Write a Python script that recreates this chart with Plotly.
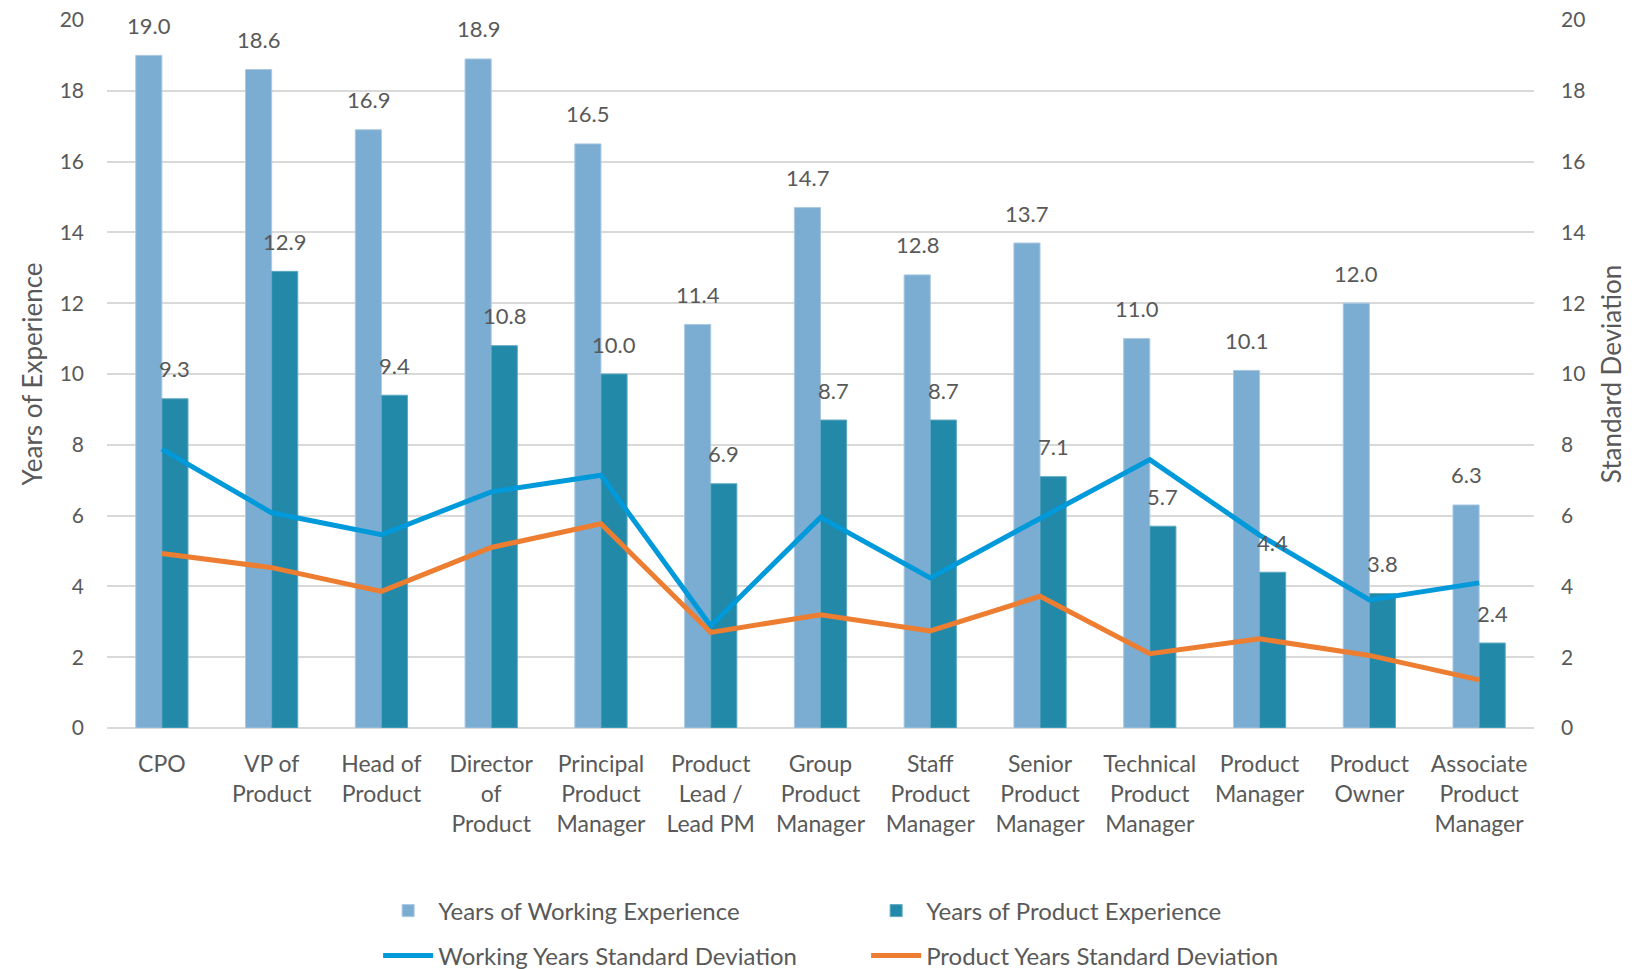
import plotly.graph_objects as go

categories = ["CPO", "VP of<br>Product", "Head of<br>Product", "Director<br>of<br>Product",
              "Principal<br>Product<br>Manager", "Product<br>Lead /<br>Lead PM",
              "Group<br>Product<br>Manager", "Staff<br>Product<br>Manager",
              "Senior<br>Product<br>Manager", "Technical<br>Product<br>Manager",
              "Product<br>Manager", "Product<br>Owner", "Associate<br>Product<br>Manager"]
working_years = [19.0, 18.6, 16.9, 18.9, 16.5, 11.4, 14.7, 12.8, 13.7, 11.0, 10.1, 12.0, 6.3]
product_years = [9.3, 12.9, 9.4, 10.8, 10.0, 6.9, 8.7, 8.7, 7.1, 5.7, 4.4, 3.8, 2.4]
working_sd = [7.88, 6.08, 5.46, 6.67, 7.14, 2.88, 5.95, 4.24, 5.92, 7.58, 5.45, 3.62, 4.1]
product_sd = [4.93, 4.53, 3.86, 5.1, 5.77, 2.7, 3.2, 2.74, 3.72, 2.1, 2.52, 2.05, 1.36]

idx = list(range(len(categories)))
GRAY = "#595959"
FONT = "Lato"

fig = go.Figure()
fig.add_trace(go.Bar(x=idx, y=working_years, name="Years of Working Experience",
                     marker=dict(color="#7BACD1", line=dict(color="#A9C8E2", width=1)),
                     legend="legend"))
fig.add_trace(go.Bar(x=idx, y=product_years, name="Years of Product Experience",
                     marker=dict(color="#2389A9", line=dict(color="#5FA9C2", width=1)),
                     legend="legend"))
fig.add_trace(go.Scatter(x=idx, y=working_sd, name="Working Years Standard Deviation",
                         mode="lines", line=dict(color="#0099DA", width=5),
                         yaxis="y2", legend="legend2"))
fig.add_trace(go.Scatter(x=idx, y=product_sd, name="Product Years Standard Deviation",
                         mode="lines", line=dict(color="#ED7D31", width=5),
                         yaxis="y2", legend="legend2"))

bargap = 0.524
half = (1 - bargap) / 4
for i in idx:
    fig.add_annotation(x=i - half, y=working_years[i], text=f"{working_years[i]:.1f}",
                       showarrow=False, yanchor="middle", yshift=30,
                       font=dict(family=FONT, size=22, color=GRAY))
    fig.add_annotation(x=i + half, y=product_years[i], text=f"{product_years[i]:.1f}",
                       showarrow=False, yanchor="middle", yshift=30,
                       font=dict(family=FONT, size=22, color=GRAY))

fig.update_layout(
    width=1636, height=969,
    margin=dict(l=107, r=102, t=20, b=241, autoexpand=False),
    plot_bgcolor="white", paper_bgcolor="white",
    barmode="group", bargap=bargap, bargroupgap=0,
    font=dict(family=FONT, color=GRAY),
    xaxis=dict(tickmode="array", tickvals=idx, ticktext=categories,
               range=[-0.5, len(categories) - 0.5], automargin=False,
               tickfont=dict(size=23, color=GRAY), showgrid=False,
               showline=False, ticks="", ticklabelstandoff=20),
    yaxis=dict(range=[0, 20], dtick=2, tickfont=dict(size=21, color=GRAY),
               gridcolor="#D9D9D9", gridwidth=1.5, zeroline=True,
               zerolinecolor="#D9D9D9", zerolinewidth=1.5, automargin=False,
               ticklabelstandoff=22,
               title=dict(text="Years of Experience", font=dict(size=26, color=GRAY),
                          standoff=9)),
    yaxis2=dict(range=[0, 20], dtick=2, overlaying="y", side="right",
                showgrid=False, zeroline=False, tickfont=dict(size=21, color=GRAY),
                ticklabelstandoff=26, automargin=False,
                title=dict(text="Standard Deviation", font=dict(size=26, color=GRAY),
                           standoff=18)),
    legend=dict(orientation="h", x=0.19, xanchor="left", y=-0.2585, yanchor="middle",
                entrywidth=423, entrywidthmode="pixels", itemwidth=50,
                font=dict(size=24, color=GRAY, family=FONT), traceorder="normal"),
    legend2=dict(orientation="h", x=0.19, xanchor="left", y=-0.322, yanchor="middle",
                 entrywidth=423, entrywidthmode="pixels", itemwidth=50,
                 font=dict(size=24, color=GRAY, family=FONT), traceorder="normal"),
)

fig.write_html("out.html")
